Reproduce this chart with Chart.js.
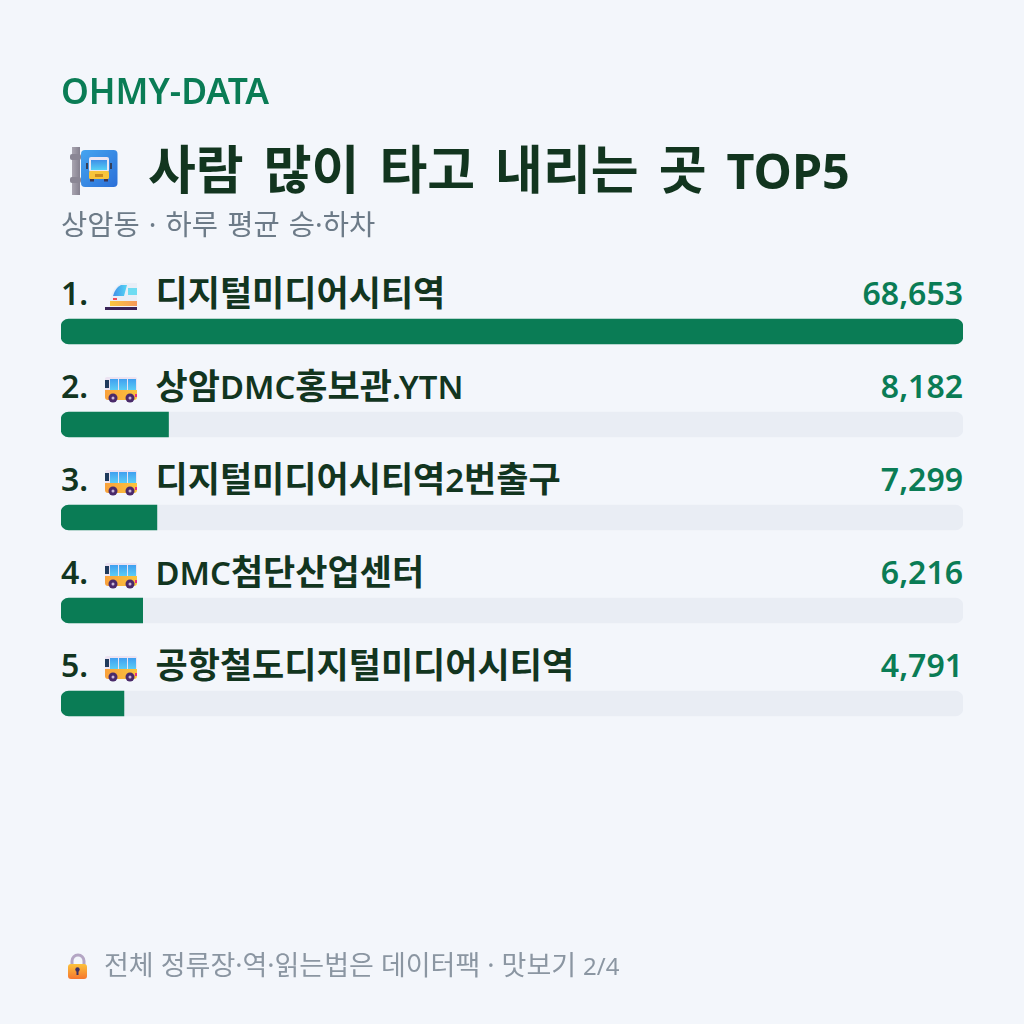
<!DOCTYPE html>
<html lang="ko">
<head>
<meta charset="utf-8">
<title>사람 많이 타고 내리는 곳 TOP5</title>
<script src="https://cdn.jsdelivr.net/npm/chart.js@4"></script>
<style>
  html, body { margin: 0; padding: 0; background: #f3f6fb; }
  body { width: 1024px; height: 1024px; position: relative; overflow: hidden;
         font-family: "Noto Sans", "Noto Sans CJK KR", sans-serif; }
  canvas { position: absolute; left: 0; top: 0; }
  .teks { position: absolute; white-space: nowrap; margin: 0; }
  #merek { left: 61px; top: 67px; font-size: 35.4px; line-height: 46px; font-weight: 600; color: #0a7c55; }
  #judul { left: 148px; top: 136px; font-size: 52px; line-height: 66px; font-weight: 700; color: #12351f; word-spacing: 6.5px; }
  #judul span { font-size: 48.5px; }
  #sub { left: 61px; top: 204px; font-size: 28.5px; line-height: 40px; color: #6d7b88; word-spacing: 1.75px; }
  #kaki { left: 104px; top: 946px; font-size: 27px; line-height: 38px; color: #8b96a2; }
  #kaki span { font-size: 24px; }
  svg { position: absolute; }
</style>
</head>
<body>
<canvas id="grafik" width="1024" height="1024"></canvas>

<div id="merek" class="teks">OHMY-DATA</div>

<!-- ikon halte bus -->
<svg style="left:68px;top:145px" width="52" height="52" viewBox="0 0 52 52">
  <defs>
    <linearGradient id="biruHalte" x1="0" y1="0" x2="1" y2="1"><stop offset="0" stop-color="#45a5f0"/><stop offset="1" stop-color="#2b6fd8"/></linearGradient>
    <linearGradient id="tiang" x1="0" y1="0" x2="1" y2="0"><stop offset="0" stop-color="#a9a5b1"/><stop offset="1" stop-color="#85818f"/></linearGradient>
    <linearGradient id="kacaHalte" x1="0" y1="0" x2="0" y2="1"><stop offset="0" stop-color="#3f8fe8"/><stop offset="1" stop-color="#55d0f5"/></linearGradient>
  </defs>
  <rect x="4" y="2" width="8" height="48" fill="url(#tiang)"/>
  <rect x="2" y="9" width="11" height="6" rx="2" fill="#8a8694"/>
  <rect x="2" y="32" width="11" height="6" rx="2" fill="#8a8694"/>
  <rect x="13" y="5" width="36.500" height="37" rx="4" fill="url(#biruHalte)"/>
  <rect x="21" y="12" width="20" height="15" rx="2" fill="#ece6f2"/>
  <rect x="23" y="15" width="16" height="10" fill="url(#kacaHalte)"/>
  <rect x="21" y="26" width="20" height="8" rx="1.500" fill="#f8c43a"/>
  <rect x="27" y="29" width="8" height="3" fill="#c98a1f"/>
  <rect x="18" y="18" width="2" height="6" fill="#33405c"/>
  <rect x="42" y="18" width="2" height="6" fill="#33405c"/>
  <rect x="22" y="34" width="4" height="2.500" fill="#3c3552"/>
  <rect x="36" y="34" width="4" height="2.500" fill="#3c3552"/>
</svg>
<h1 id="judul" class="teks">사람 많이 타고 내리는 곳 <span>TOP5</span></h1>
<div id="sub" class="teks">상암동 · 하루 평균 승·하차</div>

<!-- ikon gembok -->
<svg style="left:66px;top:953px" width="24" height="28" viewBox="0 0 24 28">
  <defs>
    <linearGradient id="jinggaKunci" x1="0" y1="0" x2="0" y2="1"><stop offset="0" stop-color="#fcc23a"/><stop offset="1" stop-color="#f5762f"/></linearGradient>
  </defs>
  <path d="M6 12 V8 a6 6 0 0 1 12 0 V12" fill="none" stroke="#b4a6c4" stroke-width="3"/>
  <rect x="2" y="11" width="19" height="15" rx="3" fill="url(#jinggaKunci)"/>
  <circle cx="11.500" cy="16.500" r="2.200" fill="#3d2f63"/>
  <rect x="10.500" y="17" width="2" height="5" fill="#3d2f63"/>
</svg>
<div id="kaki" class="teks">전체 정류장·역·읽는법은 데이터팩 · 맛보기 <span>2/4</span></div>

<script>
// Data halte dan rata-rata naik turun per hari
const namaHalte = ['디지털미디어시티역', '상암DMC홍보관.YTN', '디지털미디어시티역2번출구', 'DMC첨단산업센터', '공항철도디지털미디어시티역'];
const jenisHalte = ['kereta', 'bus', 'bus', 'bus', 'bus'];
const jumlahPenumpang = [68653, 8182, 7299, 6216, 4791];

const WARNA_LATAR = '#f3f6fb';
const WARNA_BATANG = '#0a7c55';
const WARNA_REL = '#e9edf4';
const WARNA_NAMA = '#12351f';
const FONT_LATIN = '600 32.8px "Noto Sans", sans-serif';
const FONT_ANGKA = '600 32px "Noto Sans", sans-serif';
const FONT_HANGUL = '700 35px "Noto Sans CJK KR", sans-serif';

const kanvas = document.getElementById('grafik');
// alpha:false supaya teks kanvas tetap tajam
const ctxKanvas = kanvas.getContext('2d', { alpha: false });
const nilaiMaks = Math.max(...jumlahPenumpang);

// Hangul sedikit lebih besar dari huruf latin, jadi digambar per potongan
function tulisNama(ctx, teks, x, y) {
  const potongan = teks.match(/[\uAC00-\uD7A3]+|[^\uAC00-\uD7A3]+/g);
  potongan.forEach((p) => {
    ctx.font = /[\uAC00-\uD7A3]/.test(p) ? FONT_HANGUL : FONT_LATIN;
    ctx.fillText(p, x, y);
    x += ctx.measureText(p).width;
  });
}

// Ikon bus kecil, x dan y pojok kiri atas
function gambarBus(ctx, x, y) {
  const tubuh = ctx.createLinearGradient(x, 0, x + 32, 0);
  tubuh.addColorStop(0, '#f9a13c');
  tubuh.addColorStop(1, '#fbc53c');
  ctx.fillStyle = '#ece3f2';
  ctx.beginPath(); ctx.roundRect(x, y, 32, 14, 2); ctx.fill();
  ctx.fillStyle = tubuh;
  ctx.beginPath(); ctx.roundRect(x, y + 13, 32, 10, [0, 0, 3, 3]); ctx.fill();
  ctx.fillStyle = '#1f3a5c';
  ctx.fillRect(x, y + 3, 4, 8);
  const kaca = ctx.createLinearGradient(0, y + 2, 0, y + 13);
  kaca.addColorStop(0, '#3f9ff0');
  kaca.addColorStop(1, '#5ccdf5');
  ctx.fillStyle = kaca;
  [5, 14, 23].forEach((dx) => ctx.fillRect(x + dx, y + 2, 8, 11));
  ctx.fillStyle = '#e8307a';
  ctx.fillRect(x + 30, y + 17, 2, 3);
  [8, 25].forEach((dx) => {
    ctx.fillStyle = '#4a2a6a';
    ctx.beginPath(); ctx.arc(x + dx, y + 21, 4.500, 0, Math.PI * 2); ctx.fill();
    ctx.fillStyle = '#c9b6d8';
    ctx.beginPath(); ctx.arc(x + dx, y + 21, 1.500, 0, Math.PI * 2); ctx.fill();
  });
}

// Ikon kereta cepat kecil
function gambarKereta(ctx, x, y) {
  ctx.fillStyle = '#e9eef7';
  ctx.beginPath();
  ctx.moveTo(x + 32, y); ctx.lineTo(x + 17, y);
  ctx.quadraticCurveTo(x + 8, y + 3, x + 5, y + 16);
  ctx.lineTo(x + 5, y + 23); ctx.lineTo(x + 32, y + 23);
  ctx.closePath(); ctx.fill();
  const kaca = ctx.createLinearGradient(x + 8, 0, x + 22, 0);
  kaca.addColorStop(0, '#3f8fe8');
  kaca.addColorStop(1, '#55d5f5');
  ctx.fillStyle = kaca;
  ctx.beginPath();
  ctx.moveTo(x + 22, y + 2); ctx.lineTo(x + 16, y + 2);
  ctx.quadraticCurveTo(x + 10, y + 5, x + 8, y + 13);
  ctx.lineTo(x + 19, y + 13);
  ctx.closePath(); ctx.fill();
  ctx.fillStyle = '#6fdcf2';
  ctx.fillRect(x + 23, y + 5, 9, 7);
  ctx.fillStyle = '#ef4a5a';
  ctx.fillRect(x + 8, y + 15, 4, 2);
  const bawah = ctx.createLinearGradient(x, 0, x + 32, 0);
  bawah.addColorStop(0, '#fbd03c');
  bawah.addColorStop(1, '#f59a5a');
  ctx.fillStyle = bawah;
  ctx.fillRect(x + 5, y + 18, 27, 5);
  ctx.fillStyle = '#3a2458';
  ctx.fillRect(x, y + 24, 32, 3);
}

// Latar halaman digambar dulu karena kanvas tidak transparan
const pluginLatar = {
  id: 'latarHalaman',
  beforeDraw(chart) {
    const { ctx, width, height } = chart;
    ctx.save();
    ctx.fillStyle = WARNA_LATAR;
    ctx.fillRect(0, 0, width, height);
    ctx.restore();
  }
};

// Nomor, ikon, nama halte dan angka di atas tiap batang
const pluginBaris = {
  id: 'barisHalte',
  afterDatasetsDraw(chart) {
    const { ctx, chartArea } = chart;
    const meta = chart.getDatasetMeta(0);
    ctx.save();
    ctx.textBaseline = 'alphabetic';
    meta.data.forEach((batang, i) => {
      const tengah = Math.round(batang.y);
      const dasar = tengah - 26;
      ctx.font = FONT_ANGKA;
      ctx.fillStyle = WARNA_NAMA;
      ctx.textAlign = 'left';
      ctx.fillText((i + 1) + '.', chartArea.left, dasar - 1);
      tulisNama(ctx, namaHalte[i], chartArea.left + 94.500, dasar);
      ctx.font = FONT_ANGKA;
      ctx.textAlign = 'right';
      ctx.fillStyle = WARNA_BATANG;
      ctx.fillText(jumlahPenumpang[i].toLocaleString('en-US'), chartArea.right, dasar - 1);
      if (jenisHalte[i] === 'kereta') {
        gambarKereta(ctx, chartArea.left + 44, tengah - 49);
      } else {
        gambarBus(ctx, chartArea.left + 44, tengah - 48);
      }
    });
    ctx.restore();
  }
};

new Chart(kanvas, {
  type: 'bar',
  data: {
    labels: namaHalte,
    datasets: [
      {
        label: '승·하차',
        data: jumlahPenumpang,
        backgroundColor: WARNA_BATANG,
        barThickness: 25,
        order: 1,
        borderRadius: (c) => (c.raw >= nilaiMaks
          ? 8
          : { topLeft: 8, bottomLeft: 8, topRight: 0, bottomRight: 0 }),
        borderSkipped: false
      },
      {
        label: '전체',
        data: jumlahPenumpang.map(() => nilaiMaks),
        backgroundColor: WARNA_REL,
        barThickness: 25,
        order: 2,
        borderRadius: 8,
        borderSkipped: false
      }
    ]
  },
  options: {
    indexAxis: 'y',
    responsive: false,
    animation: false,
    devicePixelRatio: 1,
    layout: { padding: { left: 61, right: 61, top: 285, bottom: 274 } },
    datasets: { bar: { grouped: false } },
    scales: {
      x: { display: false, min: 0, max: nilaiMaks },
      y: { display: false }
    },
    plugins: {
      legend: { display: false },
      tooltip: { enabled: false }
    }
  },
  plugins: [pluginLatar, pluginBaris]
});
</script>
</body>
</html>
